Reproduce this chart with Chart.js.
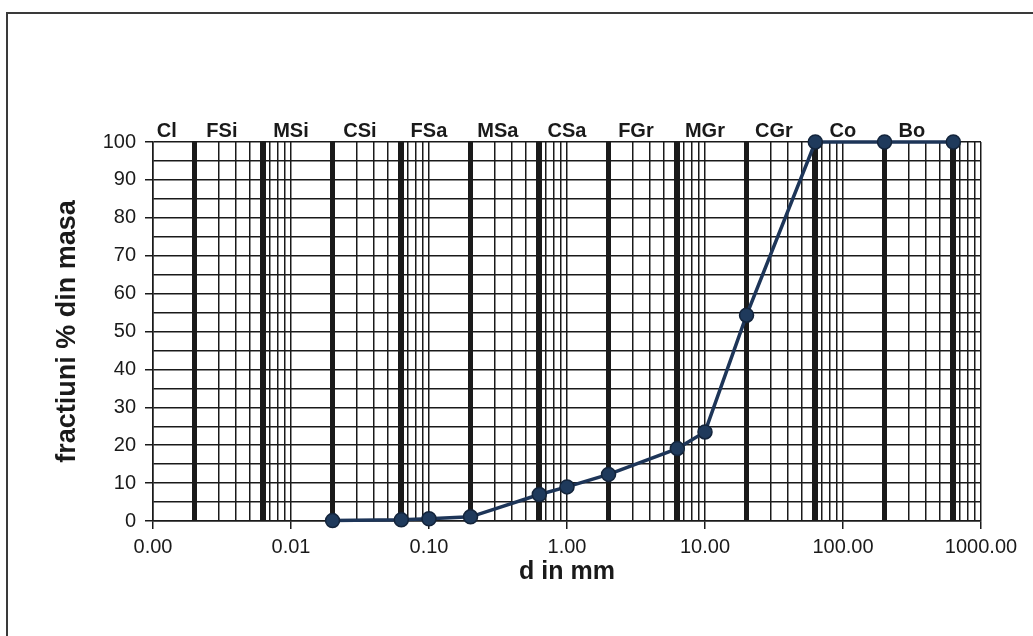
<!DOCTYPE html>
<html>
<head>
<meta charset="utf-8">
<script src="https://cdn.jsdelivr.net/npm/chart.js@4.4.1/dist/chart.umd.min.js"></script>
<style>
  html, body { margin: 0; padding: 0; background: #fff; }
  #wrap { position: relative; width: 1033px; height: 636px; }
  #frame { position: absolute; left: 6px; top: 12px; right: -4px; bottom: -4px;
           border-left: 2px solid #3a3a3a; border-top: 2px solid #3a3a3a; }
  canvas { position: absolute; left: 0; top: 0; }
</style>
</head>
<body>
<div id="wrap">
  <div id="frame"></div>
  <canvas id="chart" width="1033" height="636"></canvas>
</div>
<script>
// Grain size curve (sieve + sedimentation)
const sizes = [0.02, 0.063, 0.1, 0.2, 0.63, 1, 2, 6.3, 10, 20, 63, 200, 630];
const passing = [0.1, 0.3, 0.6, 1.1, 7.0, 9.0, 12.3, 19.1, 23.5, 54.3, 100, 100, 100];

// Soil fraction boundaries (thick lines) and the zone names between them
const boundaries = [0.002, 0.0063, 0.02, 0.063, 0.2, 0.63, 2, 6.3, 20, 63, 200, 630];
const zoneNames = ['Cl', 'FSi', 'MSi', 'CSi', 'FSa', 'MSa', 'CSa', 'FGr', 'MGr', 'CGr', 'Co', 'Bo'];

const xMin = 0.001;
const xMax = 1000;
const yTicks = [0, 10, 20, 30, 40, 50, 60, 70, 80, 90, 100];

const FONT = "'Liberation Sans', Arial, sans-serif";
const INK = '#1a1a1a';

const isDecade = (v) => Math.abs(Math.log10(v) - Math.round(Math.log10(v))) < 1e-9;
const isBoundary = (v) => boundaries.some(b => Math.abs(b - v) / b < 1e-6);

// minor log grid: 1..9 in every decade, plus the fraction boundaries
function buildXTicks() {
    const vals = [];
    for (let e = -3; e < 3; e++) {
        for (let m = 1; m <= 9; m++) vals.push(+(m * Math.pow(10, e)).toPrecision(6));
    }
    vals.push(xMax);
    boundaries.forEach(b => { if (!vals.some(v => Math.abs(v - b) / b < 1e-6)) vals.push(b); });
    return vals.sort((a, b) => a - b);
}

const zoneLabels = {
    id: 'zoneLabels',
    afterDraw(chart) {
        const { ctx, chartArea, scales: { x } } = chart;
        const edges = [xMin, ...boundaries];
        ctx.save();
        ctx.font = 'bold 20px ' + FONT;
        ctx.fillStyle = INK;
        ctx.textAlign = 'center';
        ctx.textBaseline = 'alphabetic';
        zoneNames.forEach((name, i) => {
            const mid = Math.sqrt(edges[i] * edges[i + 1]);
            ctx.fillText(name, x.getPixelForValue(mid) - 7, chartArea.top - 5);
        });
        ctx.restore();
    }
};

new Chart(document.getElementById('chart'), {
    type: 'scatter',
    data: {
        datasets: [{
            data: sizes.map((d, i) => ({ x: d, y: passing[i] })),
            showLine: true,
            borderColor: '#1d3558',
            borderWidth: 3.5,
            pointRadius: 7,
            pointBackgroundColor: '#1f3a5c',
            pointBorderColor: '#13243b',
            pointBorderWidth: 1.5,
            clip: false
        }]
    },
    options: {
        responsive: false,
        animation: false,
        layout: { padding: { top: 142, right: 52, left: 0, bottom: 0 } },
        plugins: { legend: { display: false }, tooltip: { enabled: false } },
        scales: {
            x: {
                type: 'logarithmic',
                min: xMin,
                max: xMax,
                afterBuildTicks: (scale) => {
                    scale.ticks = buildXTicks().map(v => ({ value: v }));
                },
                afterFit: (scale) => { scale.height = 115; },
                ticks: {
                    autoSkip: false,
                    maxRotation: 0,
                    padding: 6,
                    color: INK,
                    font: { family: FONT, size: 20 },
                    callback: (v) => isDecade(v) ? Number(v).toFixed(2) : ''
                },
                grid: {
                    color: INK,
                    lineWidth: (ctx) => ctx.tick && isBoundary(ctx.tick.value) ? 5 : 1.5,
                    tickLength: 8,
                    tickColor: (ctx) => ctx.tick && isDecade(ctx.tick.value) ? INK : 'rgba(0,0,0,0)',
                    tickWidth: 1.5
                },
                border: { color: INK, width: 1.5 },
                title: {
                    display: true,
                    text: 'd in mm',
                    color: INK,
                    font: { family: FONT, size: 25, weight: 'bold' },
                    padding: { top: 0, bottom: 49 }
                }
            },
            y: {
                min: 0,
                max: 100,
                afterBuildTicks: (scale) => {
                    const vals = [];
                    yTicks.forEach(t => { vals.push(t); if (t < 100) vals.push(t + 5); });
                    scale.ticks = vals.map(v => ({ value: v }));
                },
                afterFit: (scale) => { scale.width = 153; },
                ticks: {
                    autoSkip: false,
                    padding: 9,
                    color: INK,
                    font: { family: FONT, size: 20 },
                    callback: (v) => v % 10 === 0 ? String(v) : ''
                },
                grid: {
                    color: INK,
                    lineWidth: 1.5,
                    tickLength: 8,
                    tickColor: (ctx) => ctx.tick && ctx.tick.value % 10 === 0 ? INK : 'rgba(0,0,0,0)',
                    tickWidth: 1.5
                },
                border: { color: INK, width: 1.5 },
                title: {
                    display: true,
                    text: 'fractiuni % din masa',
                    color: INK,
                    font: { family: FONT, size: 27, weight: 'bold' },
                    padding: { top: 51, bottom: 0 }
                }
            }
        }
    },
    plugins: [zoneLabels]
});
</script>
</body>
</html>
